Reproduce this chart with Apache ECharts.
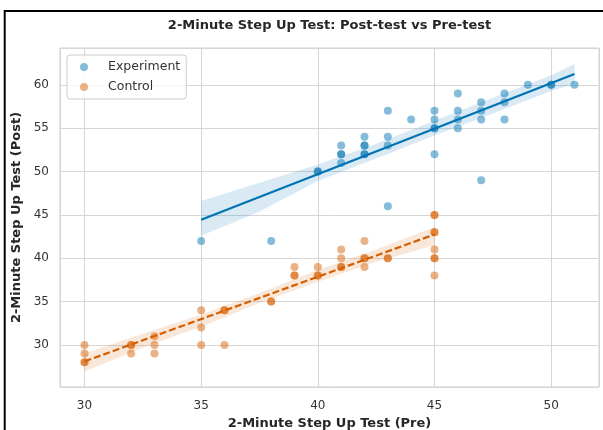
<!DOCTYPE html>
<html>
<head>
<meta charset="utf-8">
<script src="https://cdn.jsdelivr.net/npm/echarts/dist/echarts.min.js"></script>
<style>
html,body{margin:0;padding:0;background:#fff;}
#c{width:603px;height:430px;}
</style>
</head>
<body>
<div id="c"></div>
<script>
// ---- data ----
const seriesNames = ['Experiment', 'Control'];
const xTicks = [30, 35, 40, 45, 50];
const yTicks = [30, 35, 40, 45, 50, 55, 60];

const expPre  = [35,38,40,40,41,41,41,41,42,42,42,42,42,43,43,43,43,44,45,45,45,45,45,46,46,46,46,47,47,47,47,48,48,48,49,50,50,51];
const expPost = [42,42,50,50,53,52,52,51,54,53,53,52,52,57,54,53,46,56,57,56,55,55,52,59,57,56,55,58,57,56,49,59,58,56,60,60,60,60];

const ctlPre  = [30,30,30,30,32,32,32,33,33,33,35,35,35,36,36,36,38,38,39,39,39,40,40,40,41,41,41,41,42,42,42,42,43,43,45,45,45,45,45,45,45,45];
const ctlPost = [30,29,28,28,30,30,29,31,30,29,34,32,30,34,34,30,35,35,39,38,38,39,38,38,41,40,39,39,42,40,40,39,40,40,45,45,43,43,41,40,40,38];

// regression lines (end points)
const expFitX = [35, 51];
const expFitY = [44.45, 61.25];
const ctlFitX = [30, 45];
const ctlFitY = [28.1, 42.75];

// confidence bands
const expBandX  = [35, 37.5, 40, 42.5, 45, 47.5, 50, 51];
const expBandHi = [46.6, 48.7, 50.8, 53.2, 55.85, 58.5, 61.1, 62.4];
const expBandLo = [42.6, 45.4, 48.9, 51.5, 54.15, 56.7, 59.3, 60.1];

const ctlBandX  = [30, 32.5, 35, 37.5, 40, 42.5, 45];
const ctlBandHi = [29.0, 31.3, 33.5, 36.0, 38.65, 41.0, 43.6];
const ctlBandLo = [26.95, 29.7, 32.1, 34.85, 37.3, 39.6, 41.5];

// ---- chart ----
const BLUE = '#0173b2';
const ORANGE = '#d55e00';
const FONT = '"DejaVu Sans", sans-serif';

function zip(a, b) { return a.map((v, i) => [v, b[i]]); }

function bandRenderer(bx, hi, lo, color) {
  return function (params, api) {
    const pts = [];
    for (let i = 0; i < bx.length; i++) pts.push(api.coord([bx[i], hi[i]]));
    for (let i = bx.length - 1; i >= 0; i--) pts.push(api.coord([bx[i], lo[i]]));
    return { type: 'polygon', shape: { points: pts }, style: { fill: color }, silent: true };
  };
}

const chart = echarts.init(document.getElementById('c'), null, { renderer: 'canvas' });

const tickFmt = (ticks) => (v) => (ticks.some(t => Math.abs(t - v) < 1e-6) ? String(Math.round(v)) : '');

chart.setOption({
  animation: false,
  backgroundColor: '#ffffff',
  graphic: [
    {
      type: 'rect', silent: true, z: 100,
      shape: { x: 4.7, y: 11, width: 700, height: 500 },
      style: { fill: 'none', stroke: '#000000', lineWidth: 2 }
    },
    {
      type: 'text', silent: true,
      x: 329.5, y: 25.5,
      style: {
        text: '2-Minute Step Up Test: Post-test vs Pre-test',
        font: 'bold 13px ' + FONT,
        fill: '#262626',
        align: 'center', verticalAlign: 'middle',
        textAlign: 'center', textVerticalAlign: 'middle'
      }
    }
  ],
  grid: {
    left: 60, top: 48, right: 4, bottom: 43,
    show: true, borderColor: '#cccccc', borderWidth: 1,
    containLabel: false, outerBoundsMode: 'none'
  },
  xAxis: {
    type: 'value', min: 28.95, max: 52.05, minInterval: 5, maxInterval: 5,
    axisLine: { show: false }, axisTick: { show: false },
    splitLine: { show: true, lineStyle: { color: '#d6d6d6', width: 1 } },
    axisLabel: { formatter: tickFmt(xTicks), color: '#333333', fontSize: 12, fontFamily: FONT, margin: 13,
                 showMinLabel: false, showMaxLabel: false },
    name: '2-Minute Step Up Test (Pre)', nameLocation: 'middle', nameGap: 29,
    nameTextStyle: { fontWeight: 'bold', fontSize: 13, fontFamily: FONT, color: '#262626' }
  },
  yAxis: {
    type: 'value', min: 25.15, max: 64.25, minInterval: 5, maxInterval: 5,
    axisLine: { show: false }, axisTick: { show: false },
    splitLine: { show: true, lineStyle: { color: '#d6d6d6', width: 1 } },
    axisLabel: { formatter: tickFmt(yTicks), color: '#333333', fontSize: 12, fontFamily: FONT, margin: 11,
                 showMinLabel: false, showMaxLabel: false },
    name: '2-Minute Step Up Test (Post)', nameLocation: 'middle', nameGap: 27,
    nameTextStyle: { fontWeight: 'bold', fontSize: 13, fontFamily: FONT, color: '#262626' }
  },
  legend: {
    orient: 'vertical', left: 67, top: 55,
    padding: [5, 6, 5, 13], itemGap: 6, itemWidth: 8, itemHeight: 8,
    icon: 'circle',
    borderColor: '#cccccc', borderWidth: 1, borderRadius: 3,
    backgroundColor: 'rgba(255,255,255,0.8)',
    textStyle: { fontSize: 12.5, color: '#333333', fontFamily: FONT, lineHeight: 14, padding: [0, 0, 0, 15] },
    data: seriesNames
  },
  series: [
    {
      name: 'expBand', type: 'custom', z: 1, clip: true,
      renderItem: bandRenderer(expBandX, expBandHi, expBandLo, 'rgba(1,115,178,0.15)'),
      data: [[expBandX[0], expBandHi[0]]]
    },
    {
      name: 'ctlBand', type: 'custom', z: 1, clip: true,
      renderItem: bandRenderer(ctlBandX, ctlBandHi, ctlBandLo, 'rgba(213,94,0,0.15)'),
      data: [[ctlBandX[0], ctlBandHi[0]]]
    },
    {
      name: seriesNames[0], type: 'scatter', z: 2, symbol: 'circle', symbolSize: 8,
      itemStyle: { color: 'rgba(1,115,178,0.6)' },
      data: zip(expPre, expPost)
    },
    {
      name: seriesNames[1], type: 'scatter', z: 2, symbol: 'circle', symbolSize: 8,
      itemStyle: { color: 'rgba(213,94,0,0.6)' },
      data: zip(ctlPre, ctlPost)
    },
    {
      name: 'expFit', type: 'line', z: 3, showSymbol: false, symbol: 'none',
      lineStyle: { color: BLUE, width: 2.2 },
      data: zip(expFitX, expFitY)
    },
    {
      name: 'ctlFit', type: 'line', z: 3, showSymbol: false, symbol: 'none',
      lineStyle: { color: ORANGE, width: 2.2, type: [7, 3] },
      data: zip(ctlFitX, ctlFitY)
    }
  ]
});
</script>
</body>
</html>
